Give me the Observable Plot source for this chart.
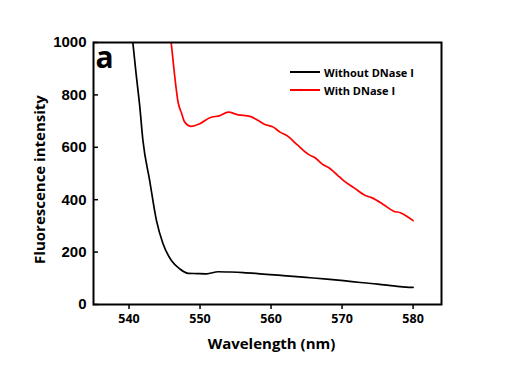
<!DOCTYPE html>
<html>
<head>
<meta charset="utf-8">
<script src="https://cdn.jsdelivr.net/npm/d3@7"></script>
<script src="https://cdn.jsdelivr.net/npm/@observablehq/plot@0.6"></script>
<style>
  html, body { margin: 0; padding: 0; background: white; }
  #wrap { position: relative; width: 522px; height: 366px; }
  #legend { position: absolute; left: 290px; top: 63px; font-family: "Open Sans", sans-serif; font-weight: bold; font-size: 11px; color: black; }
  .row { display: flex; align-items: center; height: 18.3px; white-space: nowrap; }
  .sw { width: 30px; height: 2px; margin-right: 4px; }
</style>
</head>
<body>
<div id="wrap"><div id="legend"></div></div>
<script>
// Series names
const seriesNames = ["Without DNase I", "With DNase I"];
const seriesColors = ["#000000", "#ff0000"];

// Without DNase I
const wlBlack = [540.5, 541.0, 541.5, 541.96, 542.91, 543.86, 544.79, 545.97, 547.15, 548.32, 549.5, 550.92, 552.56, 554.3, 556.09, 558.91, 561.0, 563.15, 565.5, 567.87, 570.2, 572.57, 575.0, 577.27, 579.0, 580.0];
const valBlack = [1010, 880, 760, 626, 473, 321, 232, 168, 136, 119, 118, 117, 125, 124, 122, 116, 112, 107, 102, 97, 91, 84, 78, 71, 66, 65];

// With DNase I
const wlRed = [545.9, 546.4, 546.91, 547.4, 547.85, 548.8, 549.97, 551.38, 552.8, 553.97, 555.38, 557.03, 558.0, 559.15, 560.32, 561.27, 562.22, 563.63, 565.27, 566.2, 567.16, 568.33, 569.3, 570.21, 571.7, 573.28, 574.22, 575.8, 577.27, 578.22, 579.2, 580.0];
const valRed = [1010, 880, 772, 730, 696, 680, 690, 713, 721, 734, 724, 718, 705, 687, 677, 658, 645, 611, 573, 560, 537, 518, 495, 473, 445, 416, 407, 382, 356, 350, 335, 320];

// Axes
const xTicks = [540, 550, 560, 570, 580];
const yTicks = [0, 200, 400, 600, 800, 1000];
const xDomain = [535, 584];
const yDomain = [0, 1000];
const xLabel = "Wavelength (nm)";
const yLabel = "Fluorescence intensity";
const panelLabel = "a";

const black = wlBlack.map((w, i) => ({w, v: valBlack[i]}));
const red = wlRed.map((w, i) => ({w, v: valRed[i]}));

const titleFont = "'Open Sans', 'DejaVu Sans', sans-serif";

const chart = Plot.plot({
  width: 522,
  height: 366,
  marginLeft: 93,
  marginRight: 81,
  marginTop: 42,
  marginBottom: 62,
  style: { background: "white", color: "black" },
  x: { domain: xDomain },
  y: { domain: yDomain },
  marks: [
    Plot.line(black, { x: "w", y: "v", stroke: seriesColors[0], strokeWidth: 1.7, curve: "monotone-x", clip: true }),
    Plot.line(red, { x: "w", y: "v", stroke: seriesColors[1], strokeWidth: 1.7, curve: "monotone-x", clip: true }),
    Plot.frame({ stroke: "black", strokeWidth: 2 }),
    Plot.axisX({ ticks: xTicks, tickSize: 5, tickPadding: 5, strokeWidth: 1.5, tickFormat: d => String(d), fontSize: 12.5, fontWeight: "bold", fontFamily: titleFont, label: null }),
    Plot.axisY({ ticks: yTicks, tickSize: -5, tickPadding: 12, strokeWidth: 1.5, tickFormat: d => String(d), fontSize: 15, fontWeight: "bold", fontFamily: "'Liberation Sans', Arial, sans-serif", label: null }),
    Plot.text([xLabel], { text: d => d, frameAnchor: "bottom", lineAnchor: "bottom", dx: 4, dy: 44, fontSize: 15, fontWeight: "bold", fontFamily: titleFont }),
    Plot.text([yLabel], { text: d => d, frameAnchor: "left", textAnchor: "middle", lineAnchor: "bottom", rotate: -90, dx: -49, dy: 6, fontSize: 15, fontWeight: "bold", fontFamily: titleFont }),
    Plot.text([panelLabel], { text: d => d, frameAnchor: "top-left", textAnchor: "start", lineAnchor: "bottom", dx: 2, dy: 25, fontSize: 30, fontWeight: "bold", fontFamily: titleFont })
  ]
});

const wrap = document.getElementById("wrap");
wrap.insertBefore(chart, wrap.firstChild);

const legend = d3.select("#legend");
seriesNames.forEach((name, i) => {
  const row = legend.append("div").attr("class", "row");
  row.append("div").attr("class", "sw").style("background", seriesColors[i]);
  row.append("span").text(name);
});
</script>
</body>
</html>
